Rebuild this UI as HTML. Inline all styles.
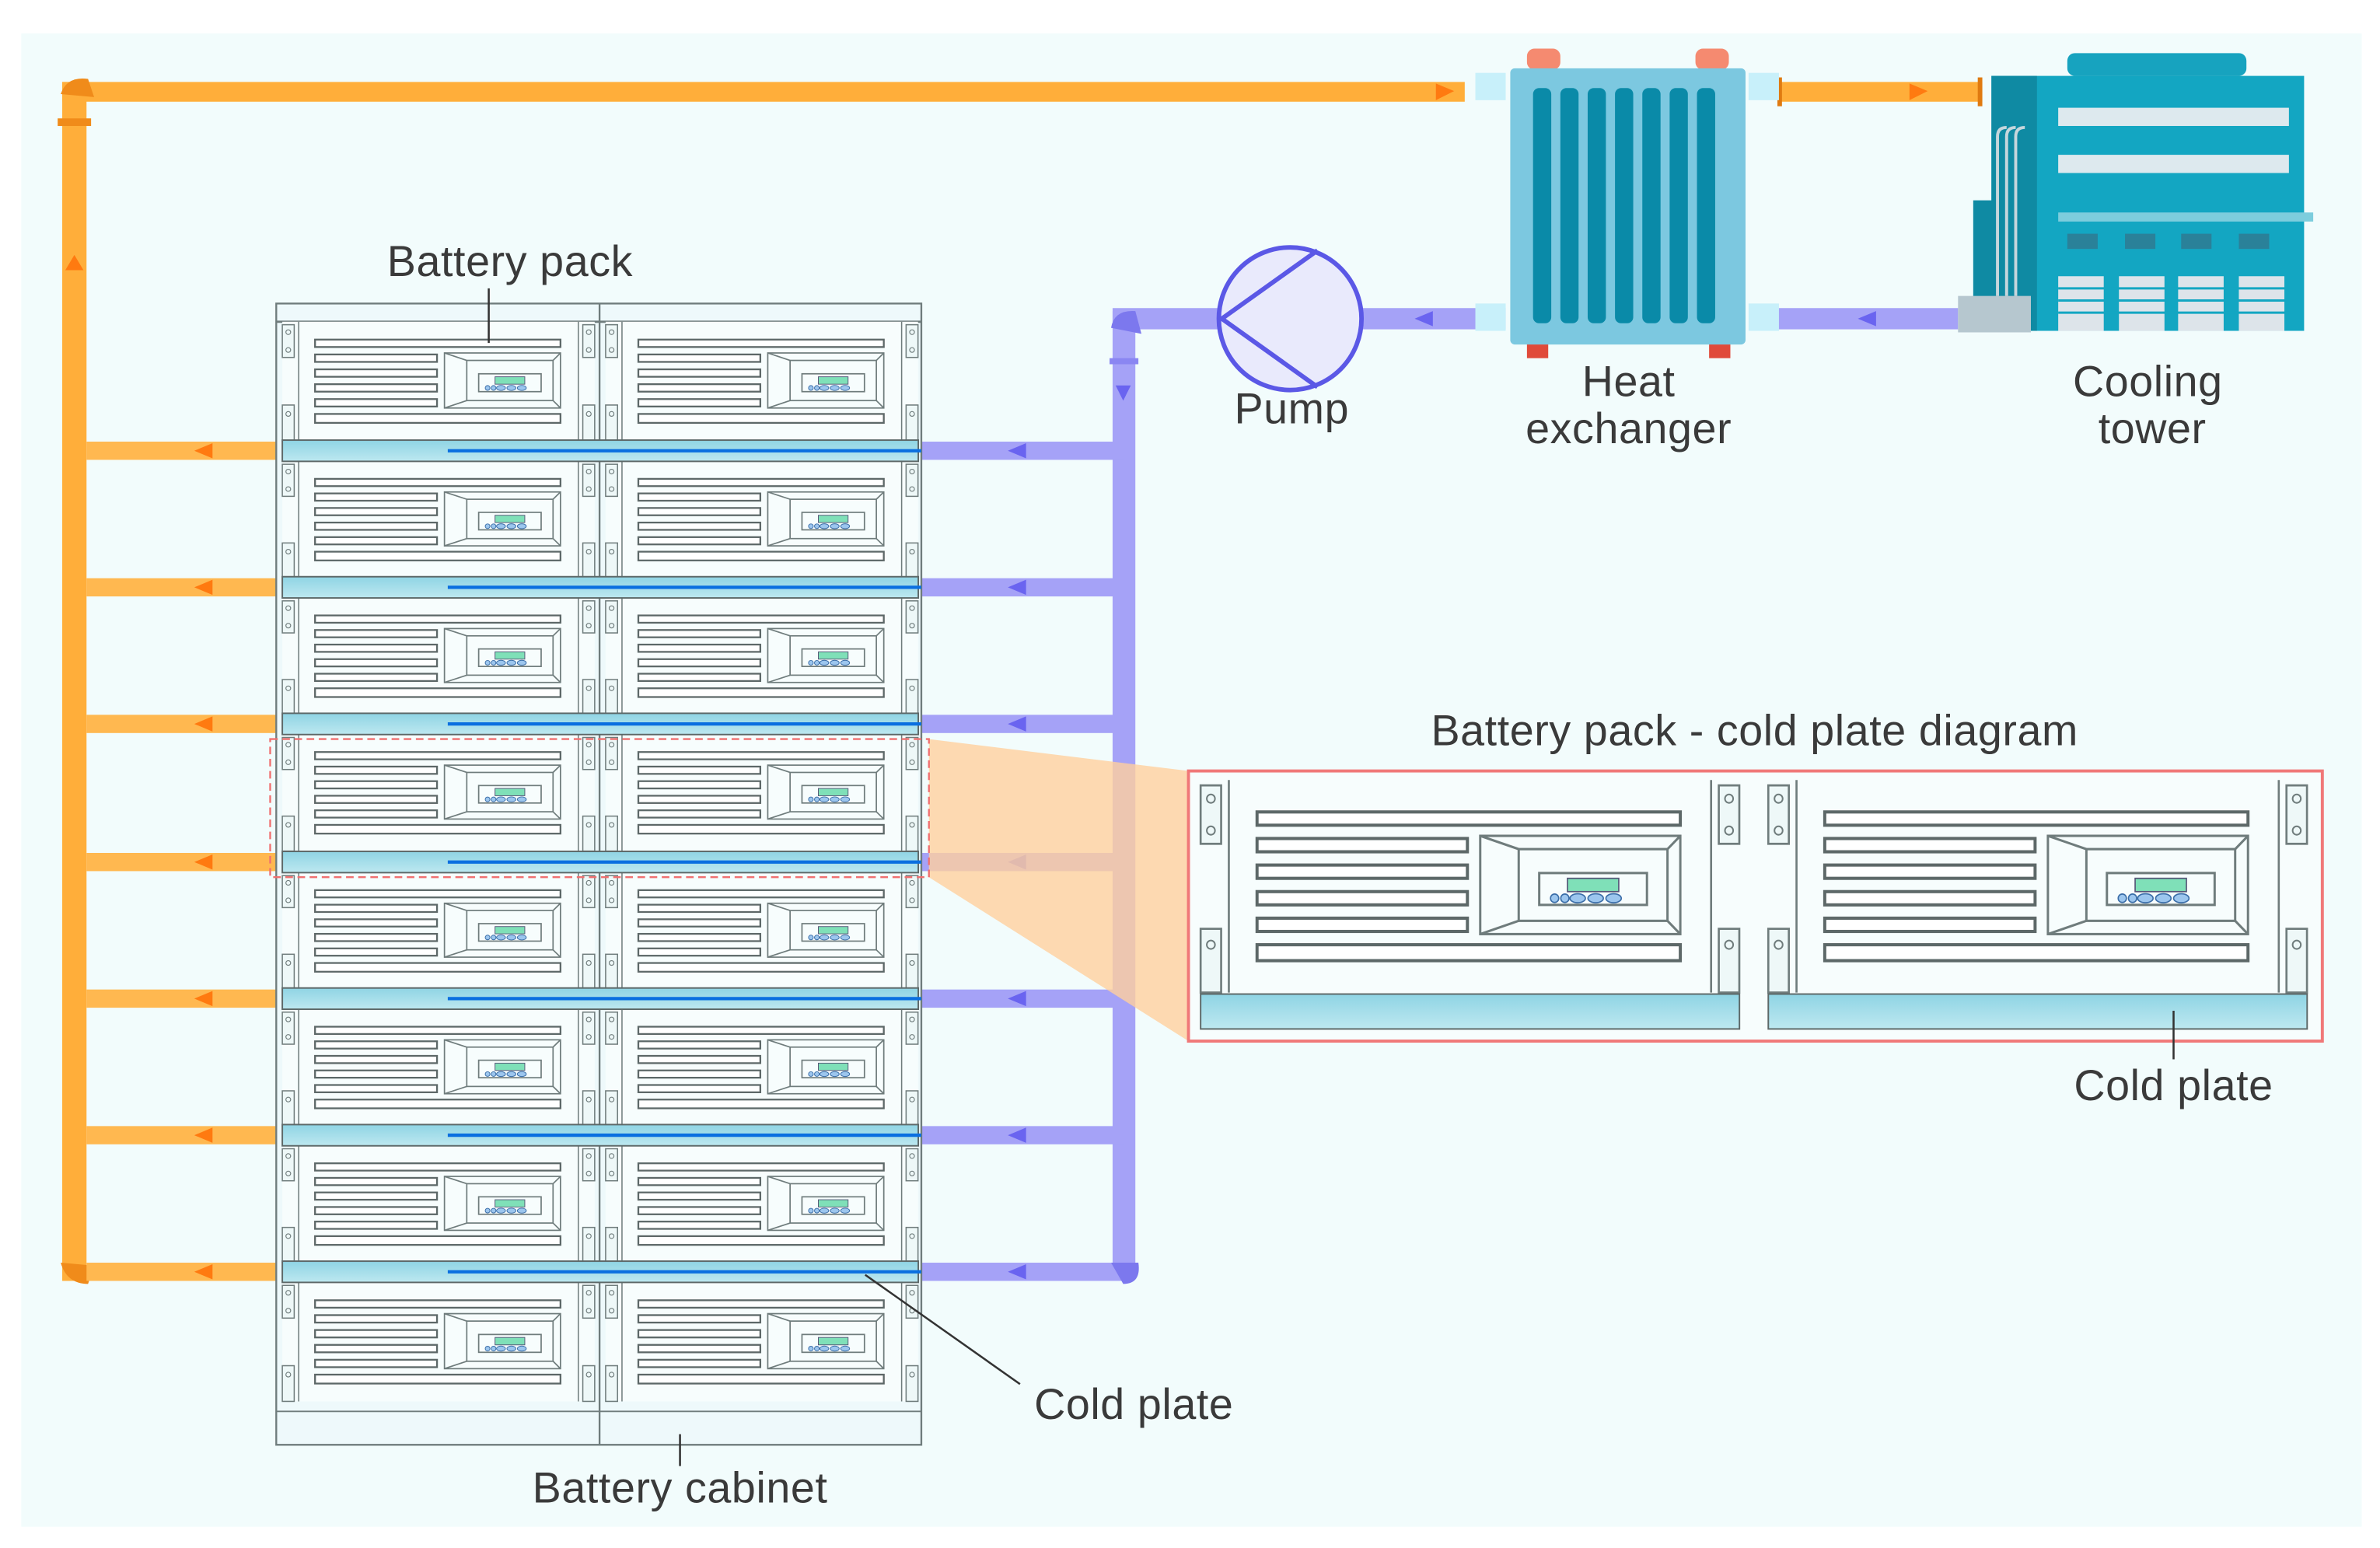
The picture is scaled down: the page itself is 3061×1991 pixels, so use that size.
<!DOCTYPE html>
<html><head><meta charset="utf-8"><style>
html,body{margin:0;padding:0;background:#fff}
svg{display:block}
text{font-family:"Liberation Sans",sans-serif;fill:#3a3a3a}
</style></head><body>
<svg width="3061" height="1991" viewBox="0 0 1568 1020" preserveAspectRatio="none" xmlns="http://www.w3.org/2000/svg">
<defs>
<g id="pack">
  <rect x="0" y="0" width="210" height="80" fill="#f7fdfd"/>
  <rect x="0" y="2" width="8" height="22" fill="#eef8f8" stroke="#6f7c7c" stroke-width="0.8"/>
  <rect x="0" y="56" width="8" height="24" fill="#eef8f8" stroke="#6f7c7c" stroke-width="0.8"/>
  <rect x="202" y="2" width="8" height="22" fill="#eef8f8" stroke="#6f7c7c" stroke-width="0.8"/>
  <rect x="202" y="56" width="8" height="24" fill="#eef8f8" stroke="#6f7c7c" stroke-width="0.8"/>
  <circle cx="4" cy="7" r="1.6" fill="none" stroke="#6f7c7c" stroke-width="0.6"/>
  <circle cx="4" cy="19" r="1.6" fill="none" stroke="#6f7c7c" stroke-width="0.6"/>
  <circle cx="206" cy="7" r="1.6" fill="none" stroke="#6f7c7c" stroke-width="0.6"/>
  <circle cx="206" cy="19" r="1.6" fill="none" stroke="#6f7c7c" stroke-width="0.6"/>
  <circle cx="4" cy="62" r="1.6" fill="none" stroke="#6f7c7c" stroke-width="0.6"/>
  <circle cx="206" cy="62" r="1.6" fill="none" stroke="#6f7c7c" stroke-width="0.6"/>
  <line x1="11" y1="0" x2="11" y2="80" stroke="#6f7c7c" stroke-width="0.8"/>
  <line x1="199" y1="0" x2="199" y2="80" stroke="#6f7c7c" stroke-width="0.8"/>
  <g fill="#fff" stroke="#5d6868" stroke-width="1.2">
    <rect x="22" y="12" width="165" height="5"/>
    <rect x="22" y="22" width="82" height="5"/>
    <rect x="22" y="32" width="82" height="5"/>
    <rect x="22" y="42" width="82" height="5"/>
    <rect x="22" y="52" width="82" height="5"/>
    <rect x="22" y="62" width="165" height="6"/>
  </g>
  <g fill="none" stroke="#6f7c7c" stroke-width="0.9">
    <rect x="109" y="21" width="78" height="37"/>
    <rect x="124" y="26" width="58" height="27"/>
    <line x1="109" y1="21" x2="124" y2="26"/><line x1="109" y1="58" x2="124" y2="53"/>
    <line x1="187" y1="21" x2="182" y2="26"/><line x1="187" y1="58" x2="182" y2="53"/>
    <rect x="132" y="35" width="42" height="12"/>
  </g>
  <rect x="143" y="37" width="20" height="5" fill="#7fe0b8" stroke="#557" stroke-width="0.5"/>
  <g fill="#9cc6ee" stroke="#3b6ea8" stroke-width="0.5">
    <ellipse cx="138" cy="44.5" rx="1.6" ry="1.6"/><ellipse cx="142" cy="44.5" rx="1.6" ry="1.6"/>
    <ellipse cx="147" cy="44.5" rx="3" ry="1.7"/><ellipse cx="154" cy="44.5" rx="3" ry="1.7"/><ellipse cx="161" cy="44.5" rx="3" ry="1.7"/>
  </g>
</g>
<linearGradient id="cp" x1="0" y1="0" x2="0" y2="1"><stop offset="0" stop-color="#8fd4e4"/><stop offset="1" stop-color="#bde8f0"/></linearGradient>
</defs>

<rect x="0" y="0" width="1568" height="1020" fill="#fff"/>
<rect x="14" y="22" width="1542" height="984" fill="#f2fcfc"/>

<g fill="#ffae3a">
  <rect x="41" y="54" width="924" height="13"/>
  <rect x="41" y="54" width="16" height="790"/>
  <rect x="1172" y="54" width="134" height="13"/>
</g>
<rect x="38" y="78" width="22" height="5" fill="#f08b1a"/>
<path d="M40 62 Q44 50 58 52 L62 64 Z" fill="#f08b1a"/>
<path d="M40 832 Q44 846 58 846 L62 834 Z" fill="#f08b1a"/>
<polygon points="49,168 43,178 55,178" fill="#ff7a10"/>
<polygon points="958,60 946,55 946,66" fill="#ff7a10"/>
<polygon points="1270,60 1258,55 1258,66" fill="#ff7a10"/>
<rect x="1171" y="51" width="3" height="19" fill="#e07a10"/>
<rect x="1303" y="51" width="3" height="19" fill="#e07a10"/>
<g fill="#ffb850">
  <rect x="57" y="291" width="128" height="12"/><rect x="57" y="381" width="128" height="12"/>
  <rect x="57" y="471" width="128" height="12"/><rect x="57" y="562" width="128" height="12"/>
  <rect x="57" y="652" width="128" height="12"/><rect x="57" y="742" width="128" height="12"/>
  <rect x="57" y="832" width="128" height="12"/>
</g>
<g fill="#ff7a10">
  <polygon points="128,297 140,292 140,302"/><polygon points="128,387 140,382 140,392"/>
  <polygon points="128,477 140,472 140,482"/><polygon points="128,568 140,563 140,573"/>
  <polygon points="128,658 140,653 140,663"/><polygon points="128,748 140,743 140,753"/>
  <polygon points="128,838 140,833 140,843"/>
</g>
<g fill="#f08b1a">
  <rect x="182" y="289" width="5" height="16"/><rect x="182" y="379" width="5" height="16"/>
  <rect x="182" y="469" width="5" height="16"/><rect x="182" y="560" width="5" height="16"/>
  <rect x="182" y="650" width="5" height="16"/><rect x="182" y="740" width="5" height="16"/>
  <rect x="182" y="830" width="5" height="16"/>
</g>

<g fill="#a5a2f7">
  <rect x="733" y="205" width="15" height="638"/>
  <rect x="733" y="203" width="72" height="14"/>
  <rect x="897" y="203" width="95" height="14"/>
  <rect x="1170" y="203" width="120" height="14"/>
  <rect x="607" y="291" width="133" height="12"/><rect x="607" y="381" width="133" height="12"/>
  <rect x="607" y="471" width="133" height="12"/><rect x="607" y="562" width="133" height="12"/>
  <rect x="607" y="652" width="133" height="12"/><rect x="607" y="742" width="133" height="12"/>
  <rect x="607" y="832" width="133" height="12"/>
</g>
<path d="M732 216 Q734 204 748 205 L752 220 Z" fill="#7c78ee"/>
<path d="M732 832 L750 832 Q752 846 740 846 Z" fill="#7c78ee"/>
<rect x="731" y="236" width="19" height="4" fill="#8a86f2"/>
<polygon points="740,264 735,254 745,254" fill="#6a64f0"/>
<g fill="#6a64f0">
  <polygon points="664,297 676,292 676,302"/><polygon points="664,387 676,382 676,392"/>
  <polygon points="664,477 676,472 676,482"/><polygon points="664,568 676,563 676,573"/>
  <polygon points="664,658 676,653 676,663"/><polygon points="664,748 676,743 676,753"/>
  <polygon points="664,838 676,833 676,843"/>
  <polygon points="932,210 944,205 944,215"/><polygon points="1224,210 1236,205 1236,215"/>
</g>

<circle cx="850" cy="210" r="47" fill="#e9eafc" stroke="#5b58e6" stroke-width="3"/>
<polyline points="868,165 805,210 868,255" fill="none" stroke="#5b58e6" stroke-width="3"/>

<rect x="1006" y="32" width="22" height="14" rx="5" fill="#f58a70"/>
<rect x="1117" y="32" width="22" height="14" rx="5" fill="#f58a70"/>
<rect x="1006" y="224" width="14" height="12" fill="#e04a3a"/>
<rect x="1126" y="224" width="14" height="12" fill="#e04a3a"/>
<rect x="972" y="48" width="20" height="18" fill="#c8f0fa"/>
<rect x="1152" y="48" width="20" height="18" fill="#c8f0fa"/>
<rect x="972" y="200" width="20" height="18" fill="#c8f0fa"/>
<rect x="1152" y="200" width="20" height="18" fill="#c8f0fa"/>
<rect x="995" y="45" width="155" height="182" rx="3" fill="#7cc8e0"/>
<g fill="#0a8aa8">
  <rect x="1010" y="58" width="12" height="155" rx="4"/><rect x="1028" y="58" width="12" height="155" rx="4"/>
  <rect x="1046" y="58" width="12" height="155" rx="4"/><rect x="1064" y="58" width="12" height="155" rx="4"/>
  <rect x="1082" y="58" width="12" height="155" rx="4"/><rect x="1100" y="58" width="12" height="155" rx="4"/>
  <rect x="1118" y="58" width="12" height="155" rx="4"/>
</g>

<rect x="1362" y="35" width="118" height="15" rx="5" fill="#17a3bf"/>
<rect x="1312" y="50" width="206" height="168" fill="#13a6c2"/>
<rect x="1312" y="50" width="30" height="168" fill="#0f8aa3"/>
<rect x="1300" y="132" width="14" height="86" fill="#0f8aa3"/>
<g fill="#dde9ee">
  <rect x="1356" y="71" width="152" height="12"/><rect x="1356" y="102" width="152" height="12"/>
</g>
<rect x="1356" y="140" width="168" height="6" fill="#7dcddd"/>
<g fill="#2a8199"><rect x="1362" y="154" width="20" height="10"/><rect x="1400" y="154" width="20" height="10"/><rect x="1437" y="154" width="20" height="10"/><rect x="1475" y="154" width="20" height="10"/></g>
<g fill="#dde4ea"><rect x="1356" y="182" width="30" height="36"/><rect x="1396" y="182" width="30" height="36"/><rect x="1435" y="182" width="30" height="36"/><rect x="1475" y="182" width="30" height="36"/></g>
<g stroke="#13a6c2" stroke-width="1.5"><line x1="1356" y1="190" x2="1508" y2="190"/><line x1="1356" y1="198" x2="1508" y2="198"/><line x1="1356" y1="206" x2="1508" y2="206"/></g>
<g stroke="#c6d6dc" stroke-width="2" fill="none"><path d="M1316 195 V90 Q1316 84 1322 84"/><path d="M1322 195 V90 Q1322 84 1328 84"/><path d="M1328 195 V90 Q1328 84 1334 84"/></g>
<rect x="1290" y="195" width="48" height="24" fill="#b6c7cf"/>

<rect x="182" y="200" width="425" height="752" fill="#eef9fb" stroke="#6f7c7c" stroke-width="1.2"/>
<line x1="182" y1="212" x2="607" y2="212" stroke="#6f7c7c" stroke-width="1.5"/>
<line x1="395" y1="200" x2="395" y2="952" stroke="#6f7c7c" stroke-width="1.2"/>
<line x1="182" y1="930" x2="607" y2="930" stroke="#6f7c7c" stroke-width="1"/>
<g>
  <use href="#pack" transform="translate(186,212) scale(0.98,0.98)"/><use href="#pack" transform="translate(399,212) scale(0.98,0.98)"/>
  <use href="#pack" transform="translate(186,304) scale(0.98,0.96)"/><use href="#pack" transform="translate(399,304) scale(0.98,0.96)"/>
  <use href="#pack" transform="translate(186,394) scale(0.98,0.96)"/><use href="#pack" transform="translate(399,394) scale(0.98,0.96)"/>
  <use href="#pack" transform="translate(186,484) scale(0.98,0.96)"/><use href="#pack" transform="translate(399,484) scale(0.98,0.96)"/>
  <use href="#pack" transform="translate(186,575) scale(0.98,0.96)"/><use href="#pack" transform="translate(399,575) scale(0.98,0.96)"/>
  <use href="#pack" transform="translate(186,665) scale(0.98,0.96)"/><use href="#pack" transform="translate(399,665) scale(0.98,0.96)"/>
  <use href="#pack" transform="translate(186,755) scale(0.98,0.96)"/><use href="#pack" transform="translate(399,755) scale(0.98,0.96)"/>
  <use href="#pack" transform="translate(186,845) scale(0.98,0.98)"/><use href="#pack" transform="translate(399,845) scale(0.98,0.98)"/>
</g>
<g fill="url(#cp)" stroke="#5d6868" stroke-width="1">
  <rect x="186" y="290" width="419" height="14"/><rect x="186" y="380" width="419" height="14"/>
  <rect x="186" y="470" width="419" height="14"/><rect x="186" y="561" width="419" height="14"/>
  <rect x="186" y="651" width="419" height="14"/><rect x="186" y="741" width="419" height="14"/>
  <rect x="186" y="831" width="419" height="14"/>
</g>
<g stroke="#0a6fe0" stroke-width="2.2">
  <line x1="295" y1="297" x2="607" y2="297"/><line x1="295" y1="387" x2="607" y2="387"/>
  <line x1="295" y1="477" x2="607" y2="477"/><line x1="295" y1="568" x2="607" y2="568"/>
  <line x1="295" y1="658" x2="607" y2="658"/><line x1="295" y1="748" x2="607" y2="748"/>
  <line x1="295" y1="838" x2="607" y2="838"/>
</g>

<polygon points="612,487 783,508 783,686 612,578" fill="#ffcf9e" opacity="0.8"/>
<rect x="178" y="487" width="434" height="91" fill="none" stroke="#f07070" stroke-width="1.2" stroke-dasharray="5,3"/>
<rect x="783" y="508" width="747" height="178" fill="#f7fdfd" stroke="#f07878" stroke-width="2"/>
<use href="#pack" transform="translate(791,514) scale(1.69,1.75)"/>
<use href="#pack" transform="translate(1165,514) scale(1.69,1.75)"/>
<rect x="791" y="655" width="355" height="23" fill="url(#cp)" stroke="#5d6868" stroke-width="1"/>
<rect x="1165" y="655" width="355" height="23" fill="url(#cp)" stroke="#5d6868" stroke-width="1"/>

<g stroke="#333" stroke-width="1.3">
  <line x1="322" y1="190" x2="322" y2="226"/>
  <line x1="570" y1="840" x2="672" y2="912"/>
  <line x1="448" y1="945" x2="448" y2="966"/>
  <line x1="1432" y1="666" x2="1432" y2="698"/>
</g>

<g font-size="28.5" letter-spacing="0.3">
  <text x="336" y="182" text-anchor="middle">Battery pack</text>
  <text x="851" y="279" text-anchor="middle">Pump</text>
  <text x="1073" y="261" text-anchor="middle">Heat</text>
  <text x="1073" y="292" text-anchor="middle">exchanger</text>
  <text x="1415" y="261" text-anchor="middle">Cooling</text>
  <text x="1418" y="292" text-anchor="middle">tower</text>
  <text x="1156" y="491" text-anchor="middle">Battery pack - cold plate diagram</text>
  <text x="1432" y="725" text-anchor="middle">Cold plate</text>
  <text x="747" y="935" text-anchor="middle">Cold plate</text>
  <text x="448" y="990" text-anchor="middle">Battery cabinet</text>
</g>
</svg>
</body></html>
